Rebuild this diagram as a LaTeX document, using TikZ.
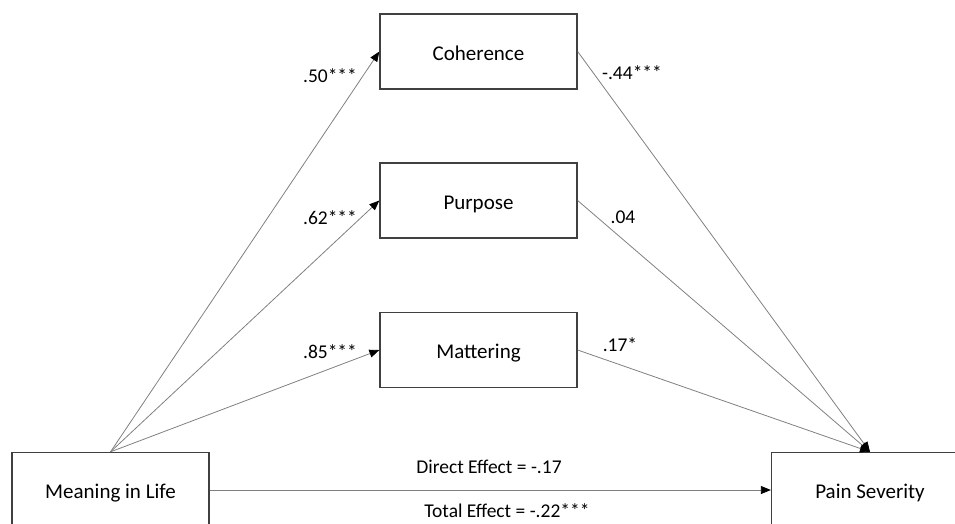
\documentclass[tikz,border=0pt]{standalone}
\usepackage{fontspec}
\setmainfont{Carlito}
\usetikzlibrary{arrows.meta}

\begin{document}
\begin{tikzpicture}[x=1pt,y=-1pt,
  varbox/.style={draw=black!75,line width=1.3pt,minimum width=197pt,minimum height=75pt,
                 inner sep=0pt,text height=17pt,text depth=0pt,font=\fontsize{21}{25}\selectfont},
  link/.style={draw=black!50,line width=0.8pt,-{Triangle[length=10pt,width=8pt,color=black]}},
  coef/.style={font=\fontsize{19.5}{23}\selectfont}]
  \pgfmathsetmacro\midx{478.5}   % column of the mediators
  \useasboundingbox (0,0) rectangle (955,523);

% mediators, predictor and outcome
  \node[varbox] (coher) at (\midx,51.5)  {Coherence};
  \node[varbox] (purp)  at (\midx,200.5) {Purpose};
  \node[varbox] (matt)  at (\midx,350)   {Mattering};
  \node[varbox] (mil)   at (110.5,490)   {Meaning in Life};
  \node[varbox] (pain)  at (870,490)     {Pain Severity};

% a paths and b paths
  \draw[link] (mil.north) -- (coher.west);
  \draw[link] (mil.north) -- (purp.west);
  \draw[link] (mil.north) -- (matt.west);
  \draw[link] (coher.east) -- (pain.north);
  \draw[link] (purp.east)  -- (pain.north);
  \draw[link] (matt.east)  -- (pain.north);
  \draw[link] (mil.east) -- (pain.west);

% coefficients
  \node[coef] (a1) at (330,76)  {.50***};
  \node[coef] (a2) at (330,218) {.62***};
  \node[coef] (a3) at (330,352) {.85***};
  \node[coef] (b1) at (632,73)  {-.44***};
  \node[coef] (b2) at (623,217) {.04};
  \node[coef] (b3) at (620,345) {.17*};
  \node[coef] (dir) at (489,467) {Direct Effect = -.17};
  \node[coef] (tot) at (507,511) {Total Effect = -.22***};
\end{tikzpicture}
\end{document}
